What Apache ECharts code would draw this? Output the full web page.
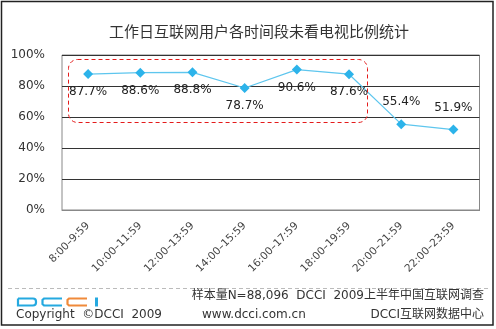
<!DOCTYPE html>
<html><head><meta charset="utf-8">
<script src="https://cdn.jsdelivr.net/npm/echarts@6/dist/echarts.min.js"></script>
<style>html,body{margin:0;padding:0;background:#fff}#c{width:496px;height:329px}</style>
</head><body><div id="c"></div>
<script>
const title = '工作日互联网用户各时间段未看电视比例统计';
const categories = ['8:00–9:59','10:00–11:59','12:00–13:59','14:00–15:59','16:00–17:59','18:00–19:59','20:00–21:59','22:00–23:59'];
const values = [87.7, 88.6, 88.8, 78.7, 90.6, 87.6, 55.4, 51.9];
const labelAbove = [false, false, false, false, false, false, true, true];
const yTicks = [0, 20, 40, 60, 80, 100];

const FONT = '"DejaVu Sans", "Noto Sans CJK SC", sans-serif';
const BLUE = '#25a9e0', ORANGE = '#f08a3a';
const chart = echarts.init(document.getElementById('c'), null, {renderer: 'canvas'});
chart.setOption({
  backgroundColor: '#fff',
  animation: false,
  title: {text: title, left: 254, top: 19, textAlign: 'center',
    textStyle: {fontSize: 15, fontWeight: 'normal', color: '#333', fontFamily: '"Noto Sans CJK SC", sans-serif'}},
  grid: {left: 62, right: 16.5, top: 55, bottom: 119, show: true, borderColor: '#888', borderWidth: 1, backgroundColor: 'transparent'},
  xAxis: {
    type: 'category', data: categories, boundaryGap: true,
    axisLine: {show: true, lineStyle: {color: '#888'}},
    axisTick: {show: false},
    axisLabel: {rotate: 45, margin: 14, fontSize: 10.5, color: '#444', fontFamily: FONT, interval: 0}
  },
  yAxis: {
    type: 'value', min: 0, max: 100, interval: 20,
    axisLine: {show: false}, axisTick: {show: false},
    axisLabel: {formatter: v => yTicks.includes(v) ? v + '%' : '', fontSize: 12, color: '#333', margin: 17, fontFamily: FONT},
    splitLine: {show: true, lineStyle: {color: '#333', width: 1}}
  },
  series: [{
    type: 'line',
    data: values.map((v, i) => ({
      value: v,
      label: {position: labelAbove[i] ? 'top' : 'bottom', distance: labelAbove[i] ? 11 : 7}
    })),
    symbol: 'diamond', symbolSize: 10,
    lineStyle: {color: '#5ec6ee', width: 1.2},
    itemStyle: {color: '#2cb3ea'},
    label: {show: true, formatter: p => p.value.toFixed(1) + '%', fontSize: 12, color: '#222', fontFamily: FONT}
  }],
  graphic: [
    {type: 'rect', shape: {x: 1.5, y: 1.5, width: 491.5, height: 323.5}, style: {fill: 'none', stroke: '#222', lineWidth: 1.5}, z: 100},
    {type: 'rect', shape: {x: 68.5, y: 59.5, width: 299, height: 63, r: 9}, style: {fill: 'none', stroke: '#e41b1b', lineWidth: 1, lineDash: [4, 3]}, z: 100},
    {type: 'line', shape: {x1: 8, y1: 288.5, x2: 488, y2: 288.5}, style: {stroke: '#bbb', lineWidth: 1, lineDash: [4, 3]}},
    // DCCI logo
    {type: 'rect', shape: {x: 18, y: 298.5, width: 18, height: 7, r: [0, 3, 3, 0]}, style: {fill: 'none', stroke: BLUE, lineWidth: 2.2}},
    {type: 'polyline', shape: {points: [[62, 298.5], [44, 298.5], [42.5, 300], [42.5, 304], [44, 305.5], [62, 305.5]]}, style: {fill: 'none', stroke: BLUE, lineWidth: 2.2}},
    {type: 'polyline', shape: {points: [[87, 298.5], [69, 298.5], [67.5, 300], [67.5, 304], [69, 305.5], [87, 305.5]]}, style: {fill: 'none', stroke: ORANGE, lineWidth: 2.2}},
    {type: 'rect', shape: {x: 95, y: 297.5, width: 3, height: 9}, style: {fill: BLUE}},
    {type: 'text', left: 16, top: 309, style: {text: 'Copyright  ©DCCI  2009', font: '12px "DejaVu Sans"', fill: '#333'}},
    {type: 'text', right: 12, top: 290, style: {text: '样本量N=88,096  DCCI  2009上半年中国互联网调查', font: '12px "DejaVu Sans", "Noto Sans CJK SC"', fill: '#333'}},
    {type: 'text', left: 202, top: 309, style: {text: 'www.dcci.com.cn', font: '12px "DejaVu Sans"', fill: '#333'}},
    {type: 'text', right: 12, top: 309, style: {text: 'DCCI互联网数据中心', font: '12px "DejaVu Sans", "Noto Sans CJK SC"', fill: '#333'}}
  ]
});
</script></body></html>
